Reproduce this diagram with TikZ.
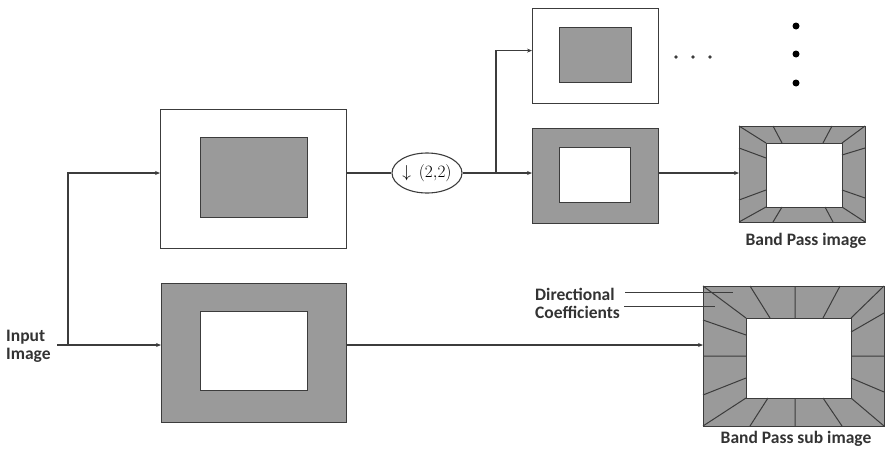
\documentclass[tikz,border=0pt]{standalone}
\usepackage{fontspec}
\setsansfont{Carlito}
\usetikzlibrary{arrows.meta,shapes.geometric}
\definecolor{edge}{HTML}{3C3C3C}
\definecolor{band}{HTML}{9A9A9A}
\tikzset{
  box/.style={draw=edge, line width=1.2pt, inner sep=0pt, anchor=north west},
  lowbox/.style={box, fill=white},
  highbox/.style={box, fill=band},
  conn/.style={draw=edge, line width=1.1pt},
  arr/.style={conn, -{Stealth[length=5pt,width=4pt]}},
  ray/.style={draw=edge, line width=1pt},
  lbl/.style={font=\sffamily\bfseries\fontsize{17.5}{20}\selectfont, text=black!80, inner sep=0pt},
}
\begin{document}
\begin{tikzpicture}[x=1pt,y=-1pt]
\useasboundingbox (0,0) rectangle (885,448);

% low-pass branch (top)
\node[lowbox, minimum width=186pt, minimum height=139pt] (A) at (160,109) {};
\node[highbox, minimum width=107pt, minimum height=80pt] (Ai) at (200,137) {};

% high-pass branch (bottom)
\node[highbox, minimum width=185pt, minimum height=139pt] (B) at (161,283) {};
\node[lowbox, minimum width=107pt, minimum height=79pt] (Bi) at (200,311) {};

% downsampler
\node[ellipse, draw=edge, line width=1.1pt, minimum width=70pt, minimum height=40pt, inner sep=0pt,
      font=\fontsize{16.5}{18}\selectfont] (ds) at (427,173) {$\downarrow\,(2{,}2)$};

% next level
\node[lowbox, minimum width=126pt, minimum height=95pt] (C) at (532,8) {};
\node[highbox, minimum width=72pt, minimum height=55pt] (Ci) at (559,27) {};
\node[highbox, minimum width=126pt, minimum height=95pt] (D) at (532,128) {};
\node[lowbox, minimum width=71pt, minimum height=55pt] (Di) at (559,147) {};

% band pass image with directional wedges
\node[highbox, minimum width=126pt, minimum height=96pt] (E) at (739,126) {};
\node[lowbox, minimum width=76pt, minimum height=64pt] (Ei) at (766,143) {};
\draw[ray] (739,126) -- (766,143)  (773,126) -- (782,143)  (832,126) -- (823,143)  (865,126) -- (842,143)
           (865,148) -- (842,155)  (865,198) -- (842,190)  (865,222) -- (842,207)
           (833,222) -- (825,207)  (773,222) -- (782,207)  (739,222) -- (766,207)
           (739,148) -- (766,158)  (739,200) -- (766,190);

% band pass sub image with directional wedges
\node[highbox, minimum width=181pt, minimum height=140pt] (F) at (703,286) {};
\node[lowbox, minimum width=105pt, minimum height=80pt] (Fi) at (746,318) {};
\draw[ray] (703,286) -- (746,318)  (750,286) -- (770,318)  (795,286) -- (795,318)  (840,286) -- (823,318)  (884,286) -- (851,318)
           (884,313) -- (851,332)  (884,356) -- (851,356)  (884,392) -- (851,378)  (884,426) -- (851,398)
           (842,426) -- (823,398)  (795,426) -- (795,398)  (750,426) -- (768,398)  (703,426) -- (746,398)
           (703,320) -- (746,335)  (703,356) -- (746,356)  (703,395) -- (746,378);

% continuation dots
\foreach \x in {676,693,710} \fill[edge] (\x,57) circle (1.8pt);
\foreach \y in {26,54,83} \fill[black] (796,\y) circle (3.5pt);

% labels
\node[lbl, anchor=west] (inp) at (6,337) {Input};
\node[lbl, anchor=west] (img) at (6,355) {Image};
\node[lbl, anchor=west] (dir) at (535,294) {Directional};
\node[lbl, anchor=west] (coef) at (535,312) {Coefficients};
\node[lbl] (bpi) at (806,241) {Band Pass image};
\node[lbl, anchor=south] (bpsi) at (796,447) {Band Pass sub image};

% connectors
\coordinate (in) at (57,345);
\coordinate (split) at (68,345);
\coordinate (br) at (496,173);
\coordinate (d1s) at (625,292);
\coordinate (d1) at (733,292);
\coordinate (d2s) at (624,306);
\coordinate (d2) at (715,306);
\draw[arr] (in) -- (B.west |- in);
\draw[arr] (split) |- (A.west |- ds);
\draw[conn] (A.east |- ds) -- (ds);
\draw[arr] (ds) -- (D.west |- ds);
\draw[arr] (br) |- ([yshift=5.5pt]C.west);
\draw[arr] (D.east |- ds) -- (E.west |- ds);
\draw[arr] (B.east |- in) -- (F.west |- in);
\draw[conn, line width=0.9pt] (d1s) -- (d1);
\draw[conn, line width=0.9pt] (d2s) -- (d2);
\end{tikzpicture}
\end{document}
